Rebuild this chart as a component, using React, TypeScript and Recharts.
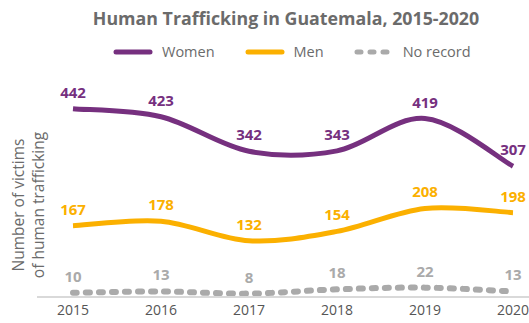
import React from "react";
import { LineChart, Line, XAxis, YAxis, LabelList } from "recharts";

const years = ["2015", "2016", "2017", "2018", "2019", "2020"];
const women = [442, 423, 342, 343, 419, 307];
const men = [167, 178, 132, 154, 208, 198];
const noRecord = [10, 13, 8, 18, 22, 13];

const data = years.map((year, i) => ({
  year,
  women: women[i],
  men: men[i],
  noRecord: noRecord[i],
}));

const PURPLE = "#76307F";
const ORANGE = "#FBB000";
const GRAY = "#AAAAAA";
const FONT = "'Open Sans', sans-serif";

// Excel-like smoothing (Catmull-Rom)
function smooth(context: any) {
  let pts: [number, number][] = [];
  return {
    areaStart() {},
    areaEnd() {},
    lineStart() {
      pts = [];
    },
    point(x: number, y: number) {
      pts.push([x, y]);
    },
    lineEnd() {
      if (!pts.length) return;
      context.moveTo(pts[0][0], pts[0][1]);
      for (let i = 0; i < pts.length - 1; i++) {
        const p0 = pts[i - 1] || pts[i];
        const p1 = pts[i];
        const p2 = pts[i + 1];
        const p3 = pts[i + 2] || p2;
        context.bezierCurveTo(
          p1[0] + (p2[0] - p0[0]) / 6,
          p1[1] + (p2[1] - p0[1]) / 6,
          p2[0] - (p3[0] - p1[0]) / 6,
          p2[1] - (p3[1] - p1[1]) / 6,
          p2[0],
          p2[1]
        );
      }
    },
  };
}

function LegendItem({ color, label, dashed }: { color: string; label: string; dashed?: boolean }) {
  return (
    <span style={{ display: "inline-flex", alignItems: "center", marginRight: 30 }}>
      <svg width={40} height={8} style={{ marginRight: 9 }}>
        <line
          x1={3}
          y1={4}
          x2={37}
          y2={4}
          stroke={color}
          strokeWidth={5}
          strokeLinecap="round"
          strokeDasharray={dashed ? "4 9" : undefined}
        />
      </svg>
      {label}
    </span>
  );
}

export default function App() {
  const labelStyle = { fontSize: 15, fontWeight: 700, fontFamily: FONT };
  return (
    <div style={{ position: "absolute", left: 0, top: 0, width: 529, height: 323, background: "#fff", fontFamily: FONT }}>
      <div
        style={{
          position: "absolute",
          left: 0,
          top: 6,
          width: 529,
          paddingLeft: 43,
          boxSizing: "border-box",
          textAlign: "center",
          fontSize: 17.8,
          fontWeight: 700,
          color: "#6b6b6b",
        }}
      >
        Human Trafficking in Guatemala, 2015-2020
      </div>
      <div
        style={{
          position: "absolute",
          left: 113,
          top: 42,
          fontSize: 14.5,
          color: "#6b6b6b",
          display: "flex",
        }}
      >
        <LegendItem color={PURPLE} label="Women" />
        <LegendItem color={ORANGE} label="Men" />
        <LegendItem color={GRAY} label="No record" dashed />
      </div>
      <div
        style={{
          position: "absolute",
          left: 28,
          top: 205,
          transform: "translate(-50%, -50%) rotate(-90deg)",
          fontSize: 15.5,
          lineHeight: "20px",
          color: "#6b6b6b",
          textAlign: "center",
          whiteSpace: "nowrap",
        }}
      >
        Number of victims
        <br />
        of human trafficking
      </div>
      <LineChart
        width={529}
        height={323}
        data={data}
        margin={{ top: 84, right: 0, bottom: 0, left: 37 }}
        style={{ position: "absolute", left: 0, top: 0 }}
      >
        <XAxis
          dataKey="year"
          padding={{ left: 36, right: 16 }}
          height={26}
          tick={{ fontSize: 14, fill: "#555", fontFamily: FONT }}
          tickLine={false}
          axisLine={{ stroke: "#d9d9d9", strokeWidth: 2 }}
          interval={0}
        />
        <YAxis hide domain={[0, 500]} />
        <Line
          dataKey="women"
          type={smooth as any}
          stroke={PURPLE}
          strokeWidth={5}
          dot={false}
          isAnimationActive={false}
        >
          <LabelList dataKey="women" position="top" offset={11} fill={PURPLE} style={labelStyle} />
        </Line>
        <Line
          dataKey="men"
          type={smooth as any}
          stroke={ORANGE}
          strokeWidth={5}
          dot={false}
          isAnimationActive={false}
        >
          <LabelList dataKey="men" position="top" offset={11} fill={ORANGE} style={labelStyle} />
        </Line>
        <Line
          dataKey="noRecord"
          type={smooth as any}
          stroke={GRAY}
          strokeWidth={6}
          strokeLinecap="round"
          strokeDasharray="4 9"
          dot={false}
          isAnimationActive={false}
        >
          <LabelList dataKey="noRecord" position="top" offset={11} fill={GRAY} style={labelStyle} />
        </Line>
      </LineChart>
    </div>
  );
}
